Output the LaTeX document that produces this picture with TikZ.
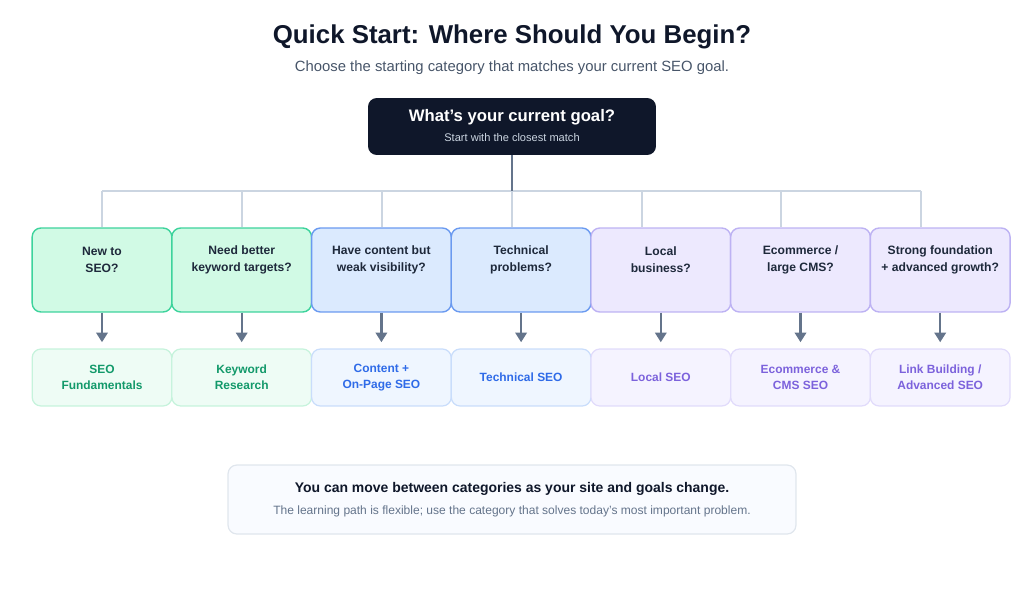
\documentclass[tikz,border=0pt]{standalone}
\usepackage{fontspec}
\setmainfont{Liberation Sans}
\usetikzlibrary{arrows.meta}

\definecolor{inkdark}{HTML}{0F172A}
\definecolor{inktext}{HTML}{1E293B}
\definecolor{inkgray}{HTML}{475569}
\definecolor{slate}{HTML}{64748B}
\definecolor{linelight}{HTML}{CBD5E1}
\definecolor{grnfill}{HTML}{D1FAE5}
\definecolor{grnline}{HTML}{3DD39C}
\definecolor{grnsoft}{HTML}{EEFCF5}
\definecolor{grnedge}{HTML}{C6F3DC}
\definecolor{grnink}{HTML}{12996A}
\definecolor{blufill}{HTML}{DBEAFE}
\definecolor{bluline}{HTML}{6A9AF0}
\definecolor{blusoft}{HTML}{EFF6FF}
\definecolor{bluedge}{HTML}{C9DDFB}
\definecolor{bluink}{HTML}{2F6BE8}
\definecolor{purfill}{HTML}{EDE9FE}
\definecolor{purline}{HTML}{BDB2F3}
\definecolor{pursoft}{HTML}{F5F3FF}
\definecolor{puredge}{HTML}{E1DBFB}
\definecolor{purink}{HTML}{7C62DC}

\begin{document}
\begin{tikzpicture}[x=0.02cm, y=-0.02cm,
    qcard/.style={draw=#1line, fill=#1fill, line width=0.8pt, rounded corners=5pt,
      minimum width=2.794cm, minimum height=1.68cm, inner sep=0pt},
    qtext/.style={font=\fontsize{6.9}{9.6}\selectfont\bfseries, text=inktext, align=center},
    rcard/.style={draw=#1edge, fill=#1soft, line width=0.7pt, rounded corners=5pt,
      minimum width=2.794cm, minimum height=1.14cm, inner sep=0pt,
      font=\fontsize{6.8}{9.2}\selectfont\bfseries, text=#1ink, align=center},
    tree/.style={draw=linelight, line width=1.3pt},
    arr/.style={draw=slate, line width=1.3pt, -{Triangle[length=5.5pt, width=6.5pt]}, shorten >=3.5pt}]
  \useasboundingbox (0,0) rectangle (1024,605);

  % Heading
  \node[font=\fontsize{14.7}{17}\selectfont\bfseries, text=inkdark] (title) at (512,37)
    {Quick Start: Where Should You Begin?};
  \node[font=\fontsize{8.45}{10}\selectfont, text=inkgray] (subtitle) at (512,68)
    {Choose the starting category that matches your current SEO goal.};

  % Root question
  \node[fill=inkdark, rounded corners=5pt, minimum width=5.76cm, minimum height=1.14cm] (goal) at (512,126.5) {};
  \node[font=\fontsize{9.5}{11}\selectfont\bfseries, text=white] (goalt) at (512,117) {What's your current goal?};
  \node[font=\fontsize{6.3}{7}\selectfont, text=linelight] (goals) at (512,138) {Start with the closest match};

  % Question cards
  \node[qcard=grn] (q1) at (102.0,270) {};
  \node[qcard=grn] (q2) at (241.7,270) {};
  \node[qcard=blu] (q3) at (381.4,270) {};
  \node[qcard=blu] (q4) at (521.1,270) {};
  \node[qcard=pur] (q5) at (660.8,270) {};
  \node[qcard=pur] (q6) at (800.5,270) {};
  \node[qcard=pur] (q7) at (940.2,270) {};
  \node[qtext] (q1t) at (102.0,259.5) {New to\\SEO?};
  \node[qtext] (q2t) at (241.7,259.5) {Need better\\keyword targets?};
  \node[qtext] (q3t) at (381.4,259.5) {Have content but\\weak visibility?};
  \node[qtext] (q4t) at (521.1,259.5) {Technical\\problems?};
  \node[qtext] (q5t) at (660.8,259.5) {Local\\business?};
  \node[qtext] (q6t) at (800.5,259.5) {Ecommerce /\\large CMS?};
  \node[qtext] (q7t) at (940.2,259.5) {Strong foundation\\+ advanced growth?};

  % Result cards
  \node[rcard=grn] (r1) at (102.0,377.5) {SEO\\Fundamentals};
  \node[rcard=grn] (r2) at (241.7,377.5) {Keyword\\Research};
  \node[rcard=blu] (r3) at (381.4,377.5) {Content +\\On-Page SEO};
  \node[rcard=blu] (r4) at (521.1,377.5) {Technical SEO};
  \node[rcard=pur] (r5) at (660.8,377.5) {Local SEO};
  \node[rcard=pur] (r6) at (800.5,377.5) {Ecommerce \&\\CMS SEO};
  \node[rcard=pur] (r7) at (940.2,377.5) {Link Building /\\Advanced SEO};

  % Branch lines
  \coordinate (d1) at (102,191);
  \coordinate (d2) at (242,191);
  \coordinate (d3) at (382,191);
  \coordinate (d4) at (512,191);
  \coordinate (d5) at (642,191);
  \coordinate (d6) at (781,191);
  \coordinate (d7) at (921,191);
  \draw[tree] (d1) -- (d7);
  \foreach \i in {1,...,7}
    \draw[tree] (d\i) -- (d\i |- q\i.north);
  \draw[draw=slate, line width=1.3pt] (goal.south) -- (d4);

  % Arrows
  \foreach \i in {1,...,7}
    \draw[arr] (q\i.south) -- (r\i.north);

  % Footer note
  \node[draw=linelight!60, fill=blusoft!40!white, line width=0.7pt, rounded corners=5pt,
    minimum width=11.36cm, minimum height=1.38cm] (note) at (512,499.5) {};
  \node[font=\fontsize{7.95}{10}\selectfont\bfseries, text=inkdark] (notet) at (512,489)
    {You can move between categories as your site and goals change.};
  \node[font=\fontsize{6.85}{8}\selectfont, text=slate] (notes) at (512,511)
    {The learning path is flexible; use the category that solves today's most important problem.};
\end{tikzpicture}
\end{document}
